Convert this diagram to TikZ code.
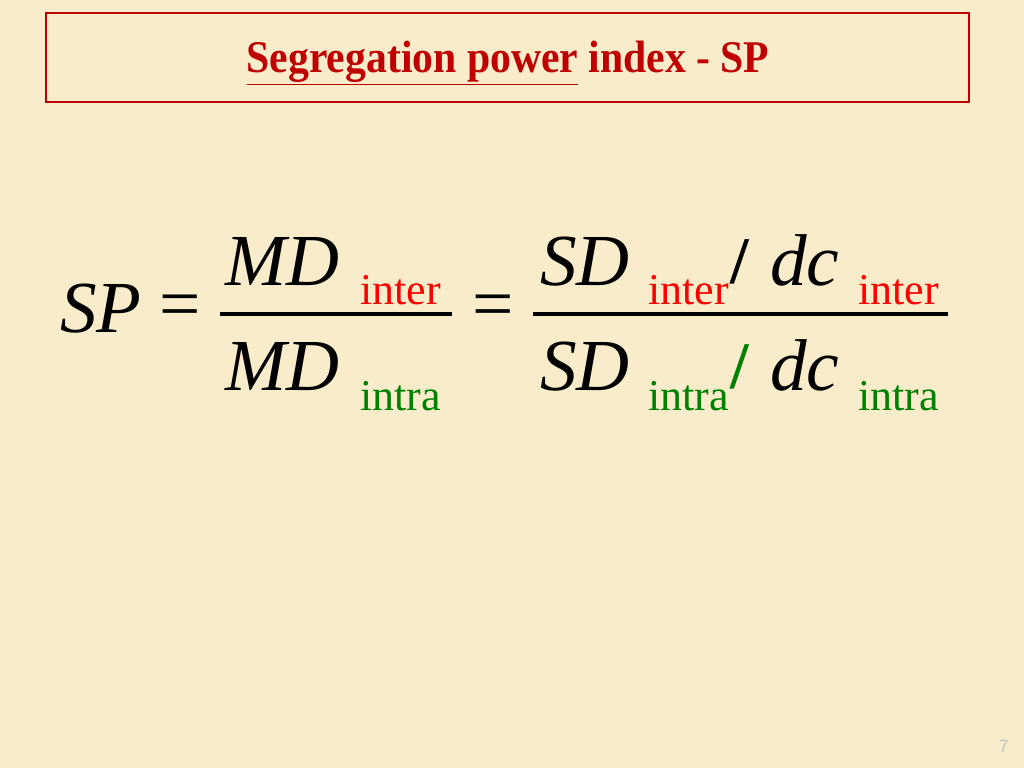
\documentclass[tikz,border=0pt]{standalone}
\usepackage{fontspec}
\setmainfont{Liberation Serif}
\definecolor{slidebg}{HTML}{F8ECCA}
\definecolor{titlered}{HTML}{C00000}
\definecolor{subgreen}{HTML}{008000}
\tikzset{
  big/.style={inner sep=0pt, anchor=base west, font=\fontsize{55}{60}\selectfont\itshape},
  sub/.style={inner sep=0pt, anchor=base west, font=\fontsize{33}{36}\selectfont},
  upper/.style={sub, text=red},
  lower/.style={sub, text=subgreen},
  slash/.style={inner sep=0pt, anchor=base west, font=\fontsize{50}{60}\selectfont\bfseries},
  fracline/.style={line width=2.4pt}
}
\begin{document}
\begin{tikzpicture}[x=0.75pt, y=-0.75pt]
  % background and title box
  \fill[slidebg] (0,0) rectangle (1024,768);
  \useasboundingbox (0,0) rectangle (1024,768);
  \draw[titlered, line width=1.6pt] (46,13) rectangle (969,102);
  \node[inner sep=0pt, text=titlered, font=\fontsize{34}{36}\selectfont\bfseries] (title) at (508,63)
    {\scalebox{0.92}[1]{\underline{Segregation power} index - SP}};

  % left side
  \node[big] (sp) at (60,332) {SP};
  \node[inner sep=0pt, font=\fontsize{55}{60}\selectfont] (eqa) at (180,312) {=};
  \node[inner sep=0pt, font=\fontsize{55}{60}\selectfont] (eqb) at (493,312) {=};

  % first fraction
  \node[big] (mdtop) at (225,285) {MD};
  \node[upper] (mdtopsub) at (360,304) {inter};
  \node[big] (mdbot) at (225,390) {MD};
  \node[lower] (mdbotsub) at (360,410) {intra};
  \draw[fracline] (220,314) -- (452,314);

  % second fraction
  \node[big] (sdtop) at (540,285) {SD};
  \node[upper] (sdtopsub) at (648,304) {inter};
  \node[slash] (slashtop) at (730,283) {/};
  \node[big] (dctop) at (770,285) {dc};
  \node[upper] (dctopsub) at (858,304) {inter};
  \node[big] (sdbot) at (540,390) {SD};
  \node[lower] (sdbotsub) at (648,410) {intra};
  \node[slash, text=subgreen] (slashbot) at (730,388) {/};
  \node[big] (dcbot) at (770,390) {dc};
  \node[lower] (dcbotsub) at (858,410) {intra};
  \draw[fracline] (533,314) -- (948,314);

  % page number
  \node[inner sep=0pt, text=black!25, font=\fontsize{14}{16}\selectfont\sffamily] (page) at (1004,746) {7};
\end{tikzpicture}
\end{document}
